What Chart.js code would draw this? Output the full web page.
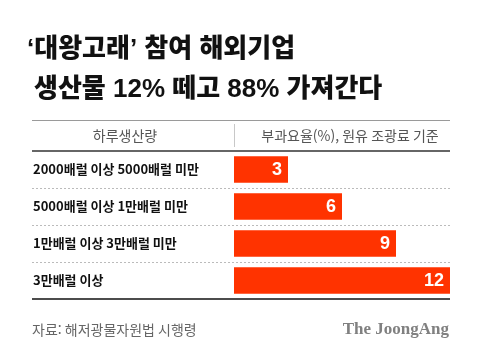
<!DOCTYPE html>
<html lang="ko">
<head>
<meta charset="utf-8">
<script src="https://cdn.jsdelivr.net/npm/chart.js@4/dist/chart.umd.min.js"></script>
<style>
  html, body { margin: 0; padding: 0; background: #fff; }
  #wrap { width: 480px; height: 356px; position: relative; }
</style>
</head>
<body>
<div id="wrap"><canvas id="c" width="480" height="356"></canvas></div>
<script>
// ---- data ----
const titleLines = ["‘대왕고래’ 참여 해외기업", "생산물 12% 떼고 88% 가져간다"];
const headerLeft = "하루생산량";
const headerRight = "부과요율(%), 원유 조광료 기준";
const categories = ["2000배럴 이상 5000배럴 미만", "5000배럴 이상 1만배럴 미만", "1만배럴 이상 3만배럴 미만", "3만배럴 이상"];
const rates = [3, 6, 9, 12];
const sourceText = "자료: 해저광물자원법 시행령";
const brandText = "The JoongAng";

const KFONT = "'Noto Sans CJK KR', 'Noto Sans', sans-serif";

const decor = {
  id: 'decor',
  beforeDraw(chart) {
    const ctx = chart.ctx;
    const area = chart.chartArea;
    const yS = chart.scales.y;
    const L = 32, R = area.right;
    ctx.save();
    // title
    ctx.fillStyle = '#111';
    ctx.font = "900 26px 'Liberation Sans', " + KFONT;
    ctx.textBaseline = 'alphabetic';
    ctx.textAlign = 'left';
    ctx.fillText(titleLines[0], 27, 57);
    ctx.fillText(titleLines[1], 34, 97);
    // top rule
    ctx.strokeStyle = '#9a9a9a';
    ctx.lineWidth = 1;
    ctx.beginPath(); ctx.moveTo(L, 120.5); ctx.lineTo(R, 120.5); ctx.stroke();
    // header texts
    ctx.fillStyle = '#555';
    ctx.font = "14px " + KFONT;
    ctx.textBaseline = 'middle';
    ctx.textAlign = 'center';
    ctx.fillText(headerLeft, 125, 136);
    ctx.fillText(headerRight, 350, 136);
    // divider
    ctx.strokeStyle = '#c8c8c8';
    ctx.beginPath(); ctx.moveTo(area.left + 0.5, 124); ctx.lineTo(area.left + 0.5, 147); ctx.stroke();
    // header bottom rule
    ctx.strokeStyle = '#333';
    ctx.lineWidth = 1.5;
    ctx.beginPath(); ctx.moveTo(L, area.top); ctx.lineTo(R, area.top); ctx.stroke();
    // dashed separators between categories
    ctx.strokeStyle = '#bbb';
    ctx.lineWidth = 1;
    ctx.setLineDash([2, 2]);
    for (let i = 0; i < categories.length - 1; i++) {
      const y = Math.round((yS.getPixelForValue(i) + yS.getPixelForValue(i + 1)) / 2) + 0.5;
      ctx.beginPath(); ctx.moveTo(L, y); ctx.lineTo(R, y); ctx.stroke();
    }
    ctx.setLineDash([]);
    // bottom rule
    ctx.strokeStyle = '#111';
    ctx.lineWidth = 1.5;
    ctx.beginPath(); ctx.moveTo(L, area.bottom); ctx.lineTo(R, area.bottom); ctx.stroke();
    // footer
    ctx.fillStyle = '#666';
    ctx.font = "14px " + KFONT;
    ctx.textAlign = 'left';
    ctx.textBaseline = 'middle';
    ctx.fillText(sourceText, 32, 330);
    ctx.fillStyle = '#808080';
    ctx.font = "bold 17px 'Liberation Serif', 'DejaVu Serif', serif";
    ctx.textAlign = 'right';
    ctx.fillText(brandText, 449, 330);
    ctx.restore();
  },
  afterDatasetsDraw(chart) {
    const ctx = chart.ctx;
    const meta = chart.getDatasetMeta(0);
    ctx.save();
    ctx.fillStyle = '#fff';
    ctx.font = "bold 18px 'Liberation Sans', Arial, sans-serif";
    ctx.textAlign = 'right';
    ctx.textBaseline = 'middle';
    meta.data.forEach((bar, i) => {
      ctx.fillText(String(rates[i]), bar.x - 6, bar.y + 1);
    });
    ctx.restore();
  }
};

new Chart(document.getElementById('c'), {
  type: 'bar',
  data: {
    labels: categories,
    datasets: [{
      data: rates,
      backgroundColor: '#ff3300',
      borderWidth: 0,
      categoryPercentage: 1,
      barPercentage: 0.72
    }]
  },
  options: {
    indexAxis: 'y',
    responsive: false,
    animation: false,
    events: [],
    layout: { padding: { top: 151, bottom: 57, left: 33, right: 30 } },
    plugins: { legend: { display: false }, tooltip: { enabled: false }, title: { display: false } },
    scales: {
      x: { display: false, min: 0, max: 12 },
      y: {
        grid: { display: false },
        border: { display: false },
        afterFit(scale) { scale.width = 201; },
        ticks: {
          crossAlign: 'far',
          color: '#111',
          padding: 0,
          font: { family: KFONT, size: 13, weight: 'bold' }
        }
      }
    }
  },
  plugins: [decor]
});
</script>
</body>
</html>
